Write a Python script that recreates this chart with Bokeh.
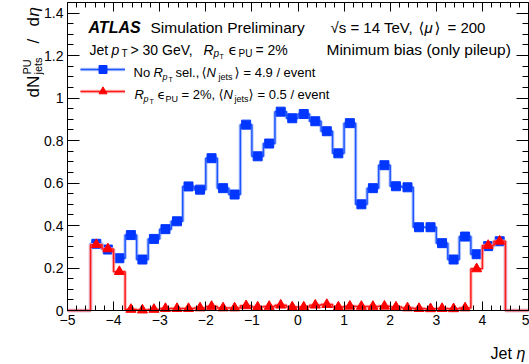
import numpy as np
from math import pi
from bokeh.plotting import figure
from bokeh.models import (Label, LinearAxis, SingleIntervalTicker, Range1d,
                          CustomJSTickFormatter, Legend, LegendItem)
from bokeh.embed import file_html
from bokeh.resources import INLINE

# ---------------- data ----------------
eta_bin_low = -4.5
eta_bin_width = 0.25
eta_axis_range = [-5.0, 5.0]
y_axis_range = [0.0, 1.45]

# dN/deta, no R_pT selection (blue squares), bins from -4.5 to 4.5
no_sel_values = [0.314, 0.287, 0.246, 0.355, 0.240, 0.337, 0.383, 0.420,
                 0.584, 0.569, 0.717, 0.576, 0.546, 0.875, 0.726, 0.786,
                 0.936, 0.905, 0.925, 0.891, 0.844, 0.740, 0.882, 0.500,
                 0.576, 0.684, 0.585, 0.580, 0.392, 0.392, 0.317, 0.240,
                 0.348, 0.265, 0.303, 0.326]
# dN/deta, R_pT eps_PU = 2% (red triangles)
rpt_values = [0.310, 0.290, 0.183, 0.005, 0.002, 0.005, 0.009, 0.009,
              0.009, 0.012, 0.019, 0.012, 0.012, 0.022, 0.016, 0.019,
              0.025, 0.016, 0.016, 0.025, 0.028, 0.016, 0.020, 0.019,
              0.019, 0.020, 0.016, 0.012, 0.009, 0.008, 0.009, 0.008,
              0.012, 0.196, 0.306, 0.326]

x_tick_labels = ["\u22125", "\u22124", "\u22123", "\u22122", "\u22121", "0", "1", "2", "3", "4", "5"]
y_tick_labels = ["0", "0.2", "0.4", "0.6", "0.8", "1", "1.2", "1.4"]

# ---------------- derived geometry ----------------
n_bins = len(no_sel_values)
edges = eta_bin_low + eta_bin_width * np.arange(n_bins + 1)
centers = edges[:-1] + eta_bin_width / 2
step_x = np.concatenate([[eta_axis_range[0]], edges, [eta_axis_range[1]]])
blue_step_y = [0.0] + list(no_sel_values) + [0.0, 0.0]
red_step_y = [0.0] + list(rpt_values) + [0.0, 0.0]

FONT = "Liberation Sans"
SYM = "DejaVu Sans"
W, H = 529, 364
FL, FR, FT, FB = 67, 528, 2, 310   # drawn axis box, canvas pixels

# the plot frame covers the whole canvas; the axis box is placed with fixed_location
sx = (FR - FL) / (eta_axis_range[1] - eta_axis_range[0])
sy = (FB - FT) / (y_axis_range[1] - y_axis_range[0])
x0 = eta_axis_range[0] - FL / sx
x1 = eta_axis_range[0] + (W - FL) / sx
y0 = y_axis_range[0] - (H - FB) / sy
y1 = y_axis_range[0] + FB / sy

p = figure(width=W, height=H, output_backend="svg", toolbar_location=None, title=None,
           x_range=Range1d(x0, x1), y_range=Range1d(y0, y1),
           x_axis_type=None, y_axis_type=None,
           min_border=0, min_border_left=0, min_border_right=0,
           min_border_top=0, min_border_bottom=0)
p.outline_line_color = None
p.background_fill_color = "white"
p.border_fill_color = "white"

def px2x(px):
    return x0 + px / sx

def py2y(py):
    return y1 - py / sy

x_fmt = CustomJSTickFormatter(args=dict(labels=x_tick_labels),
                              code="const i = Math.round(tick) + 5; return labels[i] ?? '';")
y_fmt = CustomJSTickFormatter(args=dict(labels=y_tick_labels),
                              code="const i = Math.round(tick / 0.2); return labels[i] ?? '';")

def make_axis(kind, loc, show_labels):
    if kind == "x":
        ax = LinearAxis(ticker=SingleIntervalTicker(interval=1, num_minor_ticks=5),
                        formatter=x_fmt, bounds=tuple(eta_axis_range))
        ax.major_tick_in, ax.minor_tick_in = 9, 5
    else:
        ax = LinearAxis(ticker=SingleIntervalTicker(interval=0.2, num_minor_ticks=4),
                        formatter=y_fmt, bounds=tuple(y_axis_range))
        ax.major_tick_in, ax.minor_tick_in = 12, 6
    ax.fixed_location = loc
    ax.major_tick_out = 0
    ax.minor_tick_out = 0
    ax.axis_line_color = "black"
    ax.major_tick_line_color = "black"
    ax.minor_tick_line_color = "black"
    if show_labels:
        ax.major_label_text_font = FONT
        ax.major_label_text_font_size = "14px"
        ax.major_label_text_color = "black"
        ax.major_label_standoff = 4
    else:
        ax.major_label_text_font_size = "0px"
        ax.major_label_standoff = 0
        ax.major_label_text_alpha = 0
    return ax

p.add_layout(make_axis("x", y_axis_range[0], True), "below")
p.add_layout(make_axis("x", y_axis_range[1], False), "above")
p.add_layout(make_axis("y", eta_axis_range[0], True), "left")
p.add_layout(make_axis("y", eta_axis_range[1], False), "right")

# ---------------- histograms ----------------
blue_halo = p.step(step_x, blue_step_y, mode="after", line_color="#a9bfff", line_width=3.5, line_alpha=0.8)
blue_line = p.step(step_x, blue_step_y, mode="after", line_color="#1f55ff", line_width=1.5)
blue_pts = p.scatter(centers, no_sel_values, marker="square", size=9,
                     fill_color="#0036ff", line_color="#0036ff")
red_halo = p.step(step_x, red_step_y, mode="after", line_color="#ffb0b0", line_width=3.5, line_alpha=0.8)
red_line = p.step(step_x, red_step_y, mode="after", line_color="#ff1a1a", line_width=1.5)
red_pts = p.scatter(centers, rpt_values, marker="triangle", size=10,
                    fill_color="#ff0000", line_color="#ff0000")

legend = Legend(items=[LegendItem(label=" ", renderers=[blue_halo, blue_line, blue_pts]),
                       LegendItem(label=" ", renderers=[red_halo, red_line, red_pts])],
                location=(80, H - 101), glyph_width=45, glyph_height=20,
                label_height=20, label_width=1, label_standoff=0, spacing=2,
                padding=0, margin=0, border_line_alpha=0, background_fill_alpha=0,
                label_text_font_size="8px")
p.add_layout(legend)

# ---------------- texts ----------------
def lab(text, px, py, size, style="normal", angle=0.0, font=FONT):
    # px, py: canvas pixels (from the left, from the top) of the text's baseline start
    p.add_layout(Label(x=px2x(px), y=py2y(py), text=text, text_font=font,
                       text_font_size=f"{size}px", text_font_style=style,
                       text_color="black", text_baseline="alphabetic",
                       text_align="left", angle=angle))

# row 1
lab("ATLAS", 88, 27, 16, "bold italic")
lab("Simulation Preliminary", 150, 27, 15.5)
lab("\u221as = 14 TeV,", 330, 27, 15)
lab("\u27e8", 418, 27, 15, font=SYM)
lab("\u03bc", 424, 27, 15, "italic")
lab("\u27e9", 434, 27, 15, font=SYM)
lab("= 200", 447, 27, 15)
# row 2
lab("Jet", 89, 49, 14)
lab("p", 111, 49, 14, "italic")
lab("T", 121, 53, 10)
lab("> 30 GeV,", 130, 49, 14)
lab("R", 203, 49, 14, "italic")
lab("p", 213, 53, 10, "italic")
lab("T", 219, 56, 7)
lab("\u03f5", 228, 49, 14, font=SYM)
lab("PU", 238, 53, 10)
lab("= 2%", 255, 49, 14)
lab("Minimum bias (only pileup)", 326, 49, 15.5)
# legend row 1
lab("No", 133, 72, 13)
lab("R", 153, 72, 13, "italic")
lab("p", 162, 76, 9, "italic")
lab("T", 168, 79, 7)
lab("sel.,", 175, 72, 13)
lab("\u27e8", 201, 72, 13, font=SYM)
lab("N", 206, 72, 13, "italic")
lab("jets", 218, 76, 9)
lab("\u27e9", 234, 72, 13, font=SYM)
lab("= 4.9 / event", 243, 72, 13)
# legend row 2
lab("R", 134, 94, 13, "italic")
lab("p", 143, 98, 9, "italic")
lab("T", 149, 101, 7)
lab("\u03f5", 157, 94, 13, font=SYM)
lab("PU", 165, 98, 9)
lab("= 2%,", 181, 94, 13)
lab("\u27e8", 218, 94, 13, font=SYM)
lab("N", 223, 94, 13, "italic")
lab("jets", 234, 98, 9)
lab("\u27e9", 248, 94, 13, font=SYM)
lab("= 0.5 / event", 257, 94, 13)
# x-axis title
lab("Jet", 490, 353, 16)
lab("\u03b7", 516, 353, 16, "italic")
# y-axis title (rotated, reading upwards)
lab("dN", 33, 97, 17, angle=pi / 2)
lab("PU", 26, 74, 11, angle=pi / 2)
lab("jets", 37, 74, 11, angle=pi / 2)
lab("/", 33, 43, 17, angle=pi / 2)
lab("d", 33, 26, 17, angle=pi / 2)
lab("\u03b7", 33, 16, 17, "italic", angle=pi / 2)

open("out.html", "w").write(file_html(p, INLINE))
